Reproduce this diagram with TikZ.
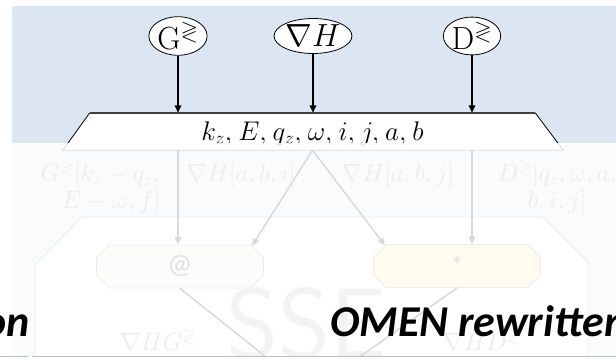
\documentclass[tikz,border=0pt]{standalone}
\usepackage{fix-cm}
\usepackage{amssymb}
\usepackage{fontspec}
\newfontfamily\calibri{Carlito}
\usetikzlibrary{arrows.meta,shapes.geometric,shapes.misc}

\definecolor{bandblue}{HTML}{DCE6F2}
\definecolor{topedge}{HTML}{404040}
\definecolor{atfill}{HTML}{EEECE1}
\definecolor{starfill}{HTML}{FFE699}
\definecolor{slideline}{HTML}{BFBFBF}

\tikzset{
  arr/.style={-{Triangle[length=7.5pt,width=6.5pt]},line width=1.5pt},
  leaf/.style={ellipse,draw,fill=white,line width=0.8pt,inner sep=0pt,
    minimum width=57pt,minimum height=35pt,font=\fontsize{32}{32}\selectfont},
  idxbox/.style={minimum width=445pt,minimum height=37pt,inner sep=0pt},
  idxtext/.style={inner sep=0pt,font=\fontsize{27}{27}\selectfont},
  opbox/.style={chamfered rectangle,chamfered rectangle xsep=10pt,draw=gray,
    line width=0.8pt,minimum width=167pt,minimum height=43pt,inner sep=0pt,
    text=black!80,font=\calibri\fontsize{28}{28}\selectfont},
  lbl/.style={inner sep=0pt,text=gray,font=\fontsize{25}{27}\selectfont},
  slogan/.style={inner sep=0pt,font=\calibri\bfseries\itshape\fontsize{44}{44}\selectfont}
}

\begin{document}
\begin{tikzpicture}[x=1pt,y=-1pt]
  \useasboundingbox (0,0) rectangle (616,361);
  \begin{scope}
  \clip (0,0) rectangle (616,356);
  \fill[bandblue] (12,6) rectangle (616,356);
  % outer frame of the sse stage
  \draw[gray,fill=white,line width=0.8pt] (35,370) -- (35,265) -- (82,217) -- (543,217)
    -- (588,262) -- (588,370);
  \node[anchor=base west,inner sep=0pt,text=gray!60,font=\sffamily\fontsize{100}{100}\selectfont]
    (wm) at (226,358) {SSE};

  % inputs
  \node[leaf] (G) at (178,36) {G$^{\gtrless}$};
  \node[leaf] (H) at (313,36) {$\nabla H$};
  \node[leaf] (D) at (472,36) {D$^{\gtrless}$};
  \node[idxbox] (idx) at (312.5,131.5) {};
  \draw[fill=white,line width=0.8pt] (idx.north west) -- ([xshift=-27pt]idx.south west)
    -- ([xshift=28pt]idx.south east) -- (idx.north east);
  \draw[topedge,line width=2.5pt] (idx.north west) -- (idx.north east);
  \node[idxtext] (idxt) at ([yshift=-2pt]idx.center)
    {$k_z,\mkern1mu E,\mkern1mu q_z,\mkern1mu \omega,\mkern1mu i,\mkern1mu j,\mkern1mu a,\mkern1mu b$};
  \foreach \n in {G,H,D}
    \draw[arr] (\n) -- (\n |- idx.north);

  % contractions
  \node[opbox,fill=atfill] (at) at (180,266.5) {@};
  \node[opbox,fill=starfill] (ast) at (457,266) {*};
  \coordinate (sse) at (310,392);
  \draw[arr] (G |- idx.south) -- (G |- at.north);
  \draw[arr] (idx.south) -- (at.16);
  \draw[arr] (idx.south) -- (ast.164);
  \draw[arr] (D |- idx.south) -- (D |- ast.north);
  \draw[arr] (at.south) -- (sse);
  \draw[arr] (ast.south) -- (sse);

  \node[lbl,anchor=east,align=right] (lg) at (160,188) {$G^{\gtrless}[k_z-q_z,$\\$E-\omega,f]$};
  \node[lbl,anchor=west] (lhi) at (186,175) {$\nabla H[a,b,i]$};
  \node[lbl,anchor=east] (lhj) at (454,175) {$\nabla H[a,b,j]$};
  \node[lbl,align=center] (ld) at (557,188) {$D^{\gtrless}[q_z,\omega,a,$\\$b,i,j]$};
  \node[lbl] (lhg) at (158,340) {$\nabla HG^{\gtrless}$};
  \node[lbl] (lhd) at (482,340) {$\nabla HD^{\gtrless}$};

  % fade out everything below the index box
  \fill[white,opacity=0.85] (12,143) rectangle (616,356);
  \end{scope}

  \node[slogan,anchor=base east] (tl) at (30,336) {on};
  \node[slogan,anchor=base west] (tr) at (330,336) {OMEN rewritten};
  \draw[slideline] (0,356) -- (28,356);
  \draw[slideline] (32,356) -- (616,356);
\end{tikzpicture}
\end{document}
